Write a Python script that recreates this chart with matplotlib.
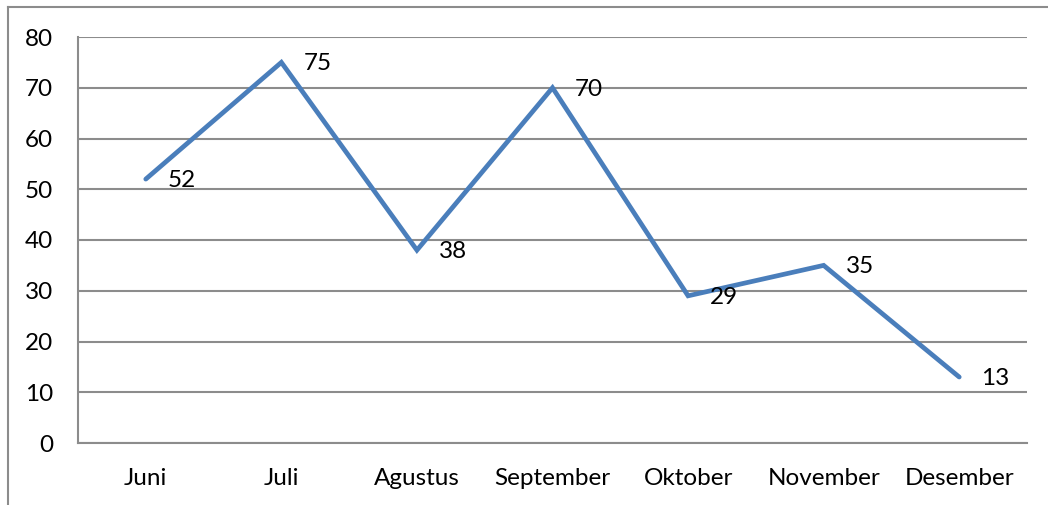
import matplotlib

matplotlib.use("Agg")
import matplotlib.pyplot as plt
from matplotlib.lines import Line2D

months = ["Juni", "Juli", "Agustus", "September", "Oktober", "November", "Desember"]
values = [52, 75, 38, 70, 29, 35, 13]
yticks = [0, 10, 20, 30, 40, 50, 60, 70, 80]

BLUE, GRID = "#4A7EBB", "#8C8C8C"
plt.rcParams.update({"font.family": ["Lato", "DejaVu Sans"], "font.size": 17.5})

fig = plt.figure(figsize=(10.48, 5.05), dpi=100)
ax = fig.add_axes([78 / 1048, 62 / 505, 949 / 1048, 406 / 505])

x = list(range(len(months)))
ax.plot(x, values, color=BLUE, lw=3.4, solid_capstyle="round", solid_joinstyle="miter", zorder=3)
for xi, v in zip(x, values):
    ax.annotate(str(v), (xi, v), xytext=(16, -1), textcoords="offset points",
                va="center", ha="left", color="black")

ax.set_xlim(-0.5, len(months) - 0.5)
ax.set_ylim(0, 80)
ax.set_yticks(yticks)
ax.set_xticks(x)
ax.set_xticklabels(months)
ax.yaxis.grid(True, color=GRID, lw=1.5)
ax.set_axisbelow(True)
for side in ["top", "right"]:
    ax.spines[side].set_visible(False)
for side in ["left", "bottom"]:
    ax.spines[side].set_color(GRID)
    ax.spines[side].set_linewidth(1.5)
ax.tick_params(axis="both", length=0)
ax.tick_params(axis="y", pad=18)
ax.tick_params(axis="x", pad=18)

# outer chart-area frame (cropped at right and bottom)
fig.add_artist(Line2D([8 / 1048, 8 / 1048], [0, 1 - 7 / 505], transform=fig.transFigure,
                      color=GRID, lw=1.5))
fig.add_artist(Line2D([8 / 1048, 1], [1 - 7 / 505, 1 - 7 / 505], transform=fig.transFigure,
                      color=GRID, lw=1.5))

fig.savefig("out.png", dpi=100)
